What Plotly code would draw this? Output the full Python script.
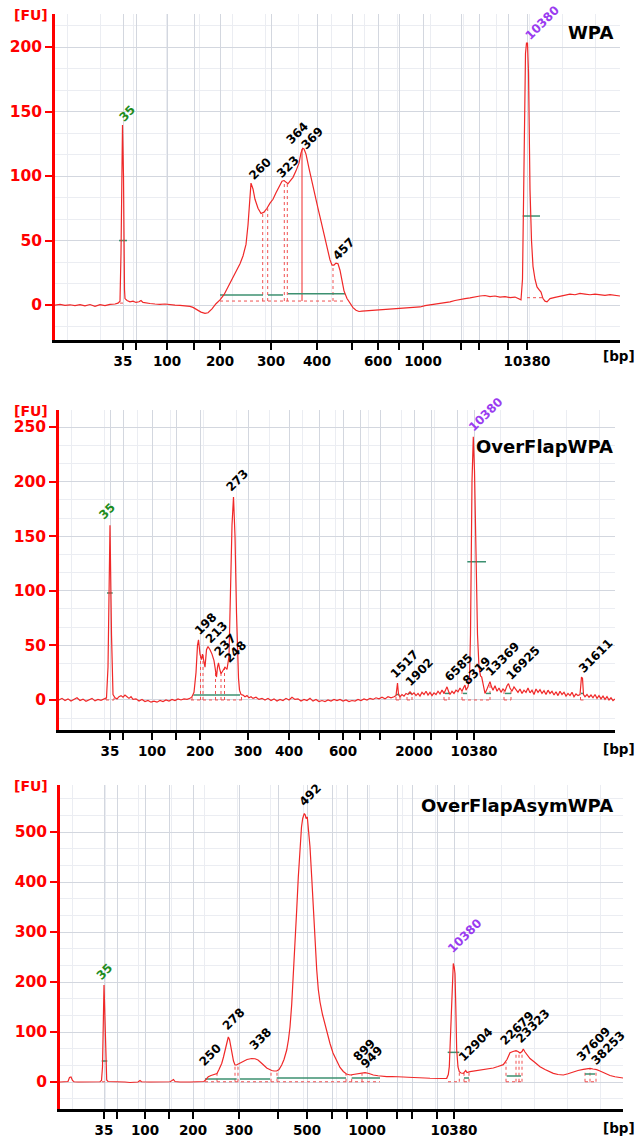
import plotly.graph_objects as go

# ---------------- data ----------------
# x values are migration positions (arbitrary run units); y values in FU
ladder_bp = [35, 50, 100, 150, 200, 300, 400, 500, 600, 700, 1000, 2000, 3000, 7000, 10380]

# ---- Panel 1 : WPA ----
p1_ladder_pos = [123, 136, 167, 194, 220, 271, 317, 352, 378, 399, 423, 461, 479, 508, 527]
p1_labelled = [35, 100, 200, 300, 400, 600, 1000, 10380]
p1_pos = [55, 60, 65, 70, 75, 80, 85, 90, 95, 100, 105, 110, 115, 118, 120, 121, 122.5, 123.5, 124.5, 125,
          127, 130, 133, 136, 139, 141, 143, 146, 150, 155, 160, 165, 170, 175, 180, 185, 190, 193, 197, 201,
          205, 208, 212, 216, 220, 224, 228, 232, 236, 240, 243, 246, 248, 250, 251, 253, 255, 258, 261, 264,
          267, 270, 273, 276, 279, 282, 284, 286, 288, 290, 293, 296, 299, 301, 302.7, 304, 306, 309, 312, 315,
          318, 321, 324, 327, 330, 332, 334, 336, 338, 340, 342, 344, 347, 350, 353, 356, 359, 362, 366, 370,
          375, 380, 385, 390, 395, 400, 405, 410, 415, 420, 425, 430, 435, 440, 445, 450, 455, 460, 465, 470,
          475, 480, 485, 490, 495, 500, 505, 510, 515, 519, 521, 522.5, 524, 525.5, 526.5, 527.5, 528.5, 530, 531.5, 533,
          535, 537, 539, 541, 543, 545, 547, 550, 555, 560, 565, 570, 575, 580, 585, 590, 595, 600, 605, 610,
          615, 620]
p1_fu = [0, 0.5, -0.3, 0.2, -0.5, 0.3, -0.6, 0.4, -1, 0.3, -0.4, 0.5, 0.8, 1.5, 3, 40, 139.5, 100, 12, 5,
         3.5, 2.5, 3, 2, 2.5, 3.5, 2, 1.5, 1.2, 0.8, 0.5, 0.8, 0.2, 0, -0.2, -0.5, -1, -1.8, -3.5, -5.5,
         -6.5, -6, -3, 1, 4, 8, 14, 20, 26, 32, 38, 47, 62, 90, 94.5, 90, 82, 75, 71, 72,
         75, 79, 82, 87, 92, 96, 96.5, 95, 94, 96, 99, 104, 110, 118, 121.5, 121, 117, 106, 95, 85,
         75, 65, 55, 45, 35, 31, 31, 32.5, 32, 27, 18, 11, 5, 1, -2, -4, -5, -4.7, -4.5, -4,
         -3.6, -3.3, -3, -2.8, -2.6, -2.2, -2.4, -2.0, -1.6, -1.5, -0.5, 0, 0.6, 1.5, 2, 2.5, 3.5, 4.4, 5, 5.6,
         6.4, 7, 7.4, 6.5, 7, 6.2, 6.5, 5.8, 6.2, 5, 4, 20, 120, 195, 203, 203, 180, 90, 50, 30,
         20, 14, 12, 10, 5, 3, 2.5, 5, 6, 7, 7.5, 8.5, 8, 9, 8.5, 8, 8.5, 8, 7.5, 8,
         7.5, 7]
p1_peaks = ["35", "260", "323", "364", "369", "457", "10380"]
p1_peak_pos = [122, 251.5, 279, 289, 304, 335, 527.3]
p1_peak_fu = [139.5, 93.8, 96, 121.7, 117.8, 32.3, 203]
p1_green = [(119, 127, 50), (522.7, 540, 69), (220, 263, 7.8), (268, 283, 7.8), (288, 345, 8.8)]
p1_dotted = [(220, 345, 3.1, 3.1), (262.7, 262.7, 3.1, 71), (267.7, 267.7, 3.1, 75), (284.3, 284.3, 3.1, 96.5),
             (287.3, 287.3, 3.1, 94.5), (333, 333, 3.1, 31), (120, 125.5, 1.5, 1.5), (527, 543, 5.7, 5.7)]
p1_solid = [(302, 302, 3.1, 121)]

# ---- Panel 2 : OverFlapWPA ----
p2_ladder_pos = [110, 123, 152, 176, 200, 248, 289, 319, 343, 360, 380, 414, 431, 457, 474]
p2_labelled = [35, 100, 200, 300, 400, 600, 2000, 10380]
p2_pos = [59, 62, 65, 68, 71, 74, 77, 80, 83, 86, 89, 92, 95, 98, 101, 104, 106.5, 108, 110, 111.5,
          113, 115, 117, 119, 121, 123, 125, 127, 129, 131, 133, 136, 139, 142, 145, 148, 151, 154, 157, 160,
          163, 166, 169, 172, 175, 178, 181, 184, 187, 190, 192, 194, 196, 197.5, 198.5, 200, 201.5, 202.5, 203.5, 205,
          206.5, 208, 210, 212, 214, 215.5, 216.5, 217.5, 218.5, 219.5, 221, 223, 225, 227, 229, 230.5, 232, 233.5, 235, 236.5,
          237.5, 238.5, 239.5, 241, 243, 245, 247, 249, 251, 253, 256, 259, 262, 265, 268, 271, 274, 277, 280, 283,
          286, 289, 292, 295, 298, 301, 304, 307, 310, 313, 316, 319, 322, 325, 328, 331, 334, 337, 340, 343,
          346, 349, 352, 355, 358, 361, 364, 367, 370, 373, 376, 379, 382, 385, 388, 391, 394, 396, 397.5, 398.5,
          400, 402, 404, 406, 408, 410, 412, 414, 416, 418, 420, 422, 424, 426, 428, 430, 432, 434, 436, 438,
          440, 442, 444, 446, 447, 448.5, 450, 452, 454, 456, 458, 460, 462, 464, 465, 466, 468, 469.5, 470.5, 472,
          473.3, 474.5, 476, 477.5, 479, 480.5, 481.7, 483, 485, 487, 488.5, 490, 491.5, 493, 495, 497, 499, 501, 503, 505,
          507, 508.5, 510, 512, 514, 516, 518, 520, 522, 524, 526, 528, 530, 532, 534, 536, 538, 540, 542, 544,
          546, 548, 550, 552, 554, 556, 558, 560, 562, 564, 566, 568, 570, 572, 574, 576, 578, 580, 581.5, 582.5,
          583.5, 585, 587, 589, 591, 593, 595, 597, 599, 601, 603, 605, 607, 609, 611, 613, 615]
p2_fu = [0, 1.5, -0.5, 1, -1, 0.5, 2, -0.5, 0.8, -1.2, 0.3, 1.5, -0.8, 0.5, -0.3, 1, 2, 30, 160, 60,
         5, 2, 1, 3, 4, 2.5, 4.5, 3, 1.5, 3, 0.5, 1, -1, 0.5, -1.5, -0.5, -2, -1, -2, -0.5,
         -1.5, 0, -1, 0.5, -0.5, 1, 0, 1, 0.5, 1.5, 3, 7, 25, 50, 55, 42, 37, 42, 38, 30,
         46, 49, 46, 42, 36, 28, 21, 30, 34, 29, 24, 27, 30, 28, 40, 100, 160, 186, 150, 80,
         40, 20, 9, 5, 4.5, 3, 4, 2, 3, 1.5, 2.5, 0.5, 1.5, 0, 1.5, -0.5, 1, -1, 0.5, -0.5,
         1.5, 0, 2.5, 0.5, 1, -1, 0.5, -0.5, 1.5, -1, 0.5, -1.5, -0.5, -1.5, 0, -1, 0.5, -0.5, 0.5, -1,
         0, -1.5, -0.5, -1, 0.5, -0.5, 1, 0, 1.5, 0.5, 2, 1, 2.5, 1, 3, 2, 3, 4, 15.5, 5,
         3, 5, 3.5, 6, 5, 7.6, 5, 6.5, 4, 6, 3.5, 7, 5, 8, 4.5, 7, 4, 6.5, 5, 8,
         5.5, 9, 6, 10, 12, 8, 5, 8, 6, 9, 7.5, 11, 8, 12, 13.7, 9, 12, 20, 60, 200,
         241, 210, 130, 60, 30, 22, 21, 14, 6, 10, 14, 16.8, 12, 9, 13, 8, 11, 7, 10, 8,
         13, 15, 11, 8, 12, 9, 7, 10, 6, 9, 7, 11, 6.5, 9, 5, 10, 7, 9.5, 6, 8.5,
         5, 9, 6, 8, 4.5, 7.5, 4, 8, 5, 7, 3.5, 6, 4, 7, 3, 5.5, 4, 5, 21, 20,
         5, 3, 5, 2.5, 4.5, 2, 5, 1.5, 4, 1, 3.5, 0.5, 3, 0, 2, -0.5, 1]
p2_peaks = ["35", "198", "213", "237", "248", "273", "1517", "1902", "6585", "8319", "10380", "13369", "16925", "31611"]
p2_peak_pos = [101.7, 196.7, 208.3, 216.7, 226.7, 229.3, 393.3, 408.3, 446.7, 465, 471.7, 488.3, 508.3, 581]
p2_peak_fu = [162, 56.5, 48.8, 36.6, 30.5, 187.7, 16.8, 9.2, 13.7, 10.7, 242.7, 18.3, 15.3, 21.3]
p2_green = [(107, 112.7, 98), (467.3, 486, 126.6), (193.3, 240, 4.6), (396, 399.5, 5), (408, 412, 6),
            (445, 449, 6), (463, 467, 6), (486, 491, 6), (505, 511, 6), (581, 584, 6)]
p2_dotted = [(191, 242, 0, 0), (200.5, 200.5, 0, 42), (203, 203, 0, 42), (215.5, 215.5, 0, 28),
             (221, 221, 0, 24), (224.5, 224.5, 0, 30), (241.5, 241.5, 0, 5), (192, 192, 0, 3),
             (106, 114, 0, 0), (106, 106, 0, 2), (114, 114, 0, 2),
             (396, 400, 0, 0), (396, 396, 0, 4), (400, 400, 0, 3),
             (407, 412, 0, 0), (407, 407, 0, 5), (412, 412, 0, 5),
             (444, 449, 0, 0), (444, 444, 0, 8), (449, 449, 0, 7),
             (462, 490, 0, 0), (462, 462, 0, 8), (490, 490, 0, 16),
             (504, 511, 0, 0), (504, 504, 0, 8), (511, 511, 0, 10),
             (580.5, 584, 0, 0), (580.5, 580.5, 0, 5)]

# ---- Panel 3 : OverFlapAsymWPA ----
p3_ladder_pos = [104, 117, 145, 169, 193, 239, 278, 307, 332, 347, 367, 397, 412, 437, 454]
p3_labelled = [35, 100, 200, 300, 500, 1000, 10380]
p3_pos = [60, 65, 68, 69.5, 71, 72.5, 74, 78, 85, 90, 95, 100, 101.5, 102.5, 104, 105.5, 106.7, 108, 110, 113,
          118, 125, 130, 135, 138, 140, 141.5, 150, 160, 170, 172, 173.5, 175, 180, 190, 200, 204, 206, 208.3, 211,
          213.3, 215.5, 217, 219, 221.7, 223.5, 225, 227, 228.3, 229.5, 231.7, 233.5, 235, 236.5, 238.3, 241, 243.3, 247, 251.7, 255,
          258, 260, 263, 266.7, 269, 271.7, 274, 276.7, 279, 281.7, 284, 286.7, 288.5, 290, 291.7, 293.3, 295, 296.7, 298.3, 300,
          301.5, 302.7, 304.3, 305.3, 306, 307.3, 308.5, 310, 311.7, 313.3, 315, 316.7, 318.3, 320, 322.5, 325, 327.5, 330, 333, 336.7,
          340, 343.3, 346.5, 350, 353, 356.7, 360, 365, 369, 373.3, 378, 382, 386.7, 392, 397, 403.3, 408, 414, 420, 425,
          430, 436.7, 442, 446.7, 448.3, 449.3, 450.5, 451.7, 452.5, 453.3, 454.2, 455, 455.8, 456.7, 458, 459.3, 461, 463.3, 465.7, 467,
          470, 475, 480, 487, 493.3, 498, 503.3, 507, 510, 513, 516, 518, 520, 522, 523.3, 525, 527, 530, 535, 540,
          545, 550, 553.3, 558, 563.3, 568, 573.3, 578, 583.3, 587, 590, 593, 596.7, 600, 603, 606.7, 610, 615, 620, 623]
p3_fu = [0, 0, 1, 9, 10, 3, 0.5, 0, 0, 0, 0, 0.5, 3, 30, 194, 60, 4, 1, 1, 0,
         -0.5, 0, -1, 0, 0, 3, 0.5, 0, 0, 0.5, 3, 5, 1, 0, 0, 0.5, 1, 5, 10.6, 13,
         14, 16, 17, 25, 37, 50, 64, 85, 90, 85, 58, 42, 34, 34, 36, 39, 41, 45, 47, 46.5,
         44, 41, 35, 28, 25, 23, 22, 22, 25, 34, 45, 64, 85, 110, 155, 210, 275, 344, 410, 477,
         510, 527, 537, 534, 527, 530, 505, 470, 410, 344, 280, 225, 185, 160, 135, 115, 92, 77, 58, 41,
         29, 21, 16, 14, 15, 16, 16.5, 18.7, 17, 14, 12.5, 11.5, 10.7, 11, 10, 10, 9.5, 9.5, 8.7, 8,
         7.5, 6.7, 7, 7.3, 15, 30.7, 100, 177, 220, 237, 230, 217, 150, 64, 30, 20.7, 18, 17.3, 23, 19,
         20.7, 22, 23.3, 25.5, 28, 31, 34.7, 45, 58.7, 61, 62.7, 61, 58, 61, 66, 60, 54, 47, 39, 30.7,
         25, 20, 17.3, 15, 14, 16.5, 20.7, 23, 25.3, 26.5, 27.3, 26, 24.7, 22, 19, 16, 13, 10.5, 8.7, 8]
p3_peaks = ["35", "250", "278", "338", "492", "899", "949", "10380", "12904", "22679", "23323", "37609", "38253"]
p3_peak_pos = [98.3, 201.7, 225, 251.7, 301.7, 356, 363.3, 450, 461.7, 502.7, 518.3, 579.3, 593.3]
p3_peak_fu = [197, 24, 97, 57, 544, 34, 21, 250.6, 34, 67, 70.7, 34, 27.3]
p3_green = [(101.7, 107.3, 42), (205, 236.7, 6), (240, 270, 6), (276.7, 346, 8), (351.7, 380, 8),
            (447.7, 459.3, 59.3), (464, 469, 8), (506.7, 521, 12), (585, 595, 16)]
p3_dotted = [(205, 380, 0.5, 0.5), (217, 217, 0.5, 17), (235, 235, 0.5, 34), (238, 238, 0.5, 36),
             (271, 271, 0.5, 23), (277, 277, 0.5, 22), (346, 346, 0.5, 16), (351.7, 351.7, 0.5, 14),
             (362, 362, 0.5, 17), (102, 107, 0.5, 0.5),
             (448, 460, 0.5, 0.5), (459.3, 459.3, 0.5, 20), (464, 469, 0.5, 0.5), (464, 464, 0.5, 18), (469, 469, 0.5, 19),
             (506, 522, 0.5, 0.5), (506, 506, 0.5, 40), (516, 516, 0.5, 62), (519, 519, 0.5, 60), (522, 522, 0.5, 61),
             (585, 596, 0.5, 0.5), (585, 585, 0.5, 25), (590, 590, 0.5, 27), (596, 596, 0.5, 25)]

titles = ["WPA", "OverFlapWPA", "OverFlapAsymWPA"]

# ---------------- layout geometry ----------------
W, H = 639, 1141
FONT = "DejaVu Sans"
CURVE = "#f02828"
GREEN = "#3c9070"
GRID = "#d3d7df"
MINOR = "#ebedf2"


def fx(px):
    return px / W


def fy(py):
    return 1 - py / H


panels = [
    dict(pos=p1_pos, fu=p1_fu, lad=p1_ladder_pos, lab=p1_labelled, peaks=p1_peaks, ppos=p1_peak_pos, pfu=p1_peak_fu,
         green=p1_green, dotted=p1_dotted, solid=p1_solid,
         px=(55, 620), py=(14, 340), yr=(-27.1, 225.6), dtick=50, title_y=32.5, fu_y=15, bp_y=356),
    dict(pos=p2_pos, fu=p2_fu, lad=p2_ladder_pos, lab=p2_labelled, peaks=p2_peaks, ppos=p2_peak_pos, pfu=p2_peak_fu,
         green=p2_green, dotted=p2_dotted, solid=[],
         px=(59, 615), py=(410, 730), yr=(-27.5, 265.6), dtick=50, title_y=446.5, fu_y=411, bp_y=749),
    dict(pos=p3_pos, fu=p3_fu, lad=p3_ladder_pos, lab=p3_labelled, peaks=p3_peaks, ppos=p3_peak_pos, pfu=p3_peak_fu,
         green=p3_green, dotted=p3_dotted, solid=[],
         px=(60, 623), py=(785, 1109), yr=(-54, 594), dtick=100, title_y=805, fu_y=786, bp_y=1128),
]

fig = go.Figure()
annotations = []
layout_axes = {}


def seg_xy(segs):
    xs, ys = [], []
    for x0, x1, y0, y1 in segs:
        xs += [x0, x1, None]
        ys += [y0, y1, None]
    return xs, ys


for i, p in enumerate(panels, start=1):
    xa = "x" if i == 1 else f"x{i}"
    ya = "y" if i == 1 else f"y{i}"
    xkey = "xaxis" if i == 1 else f"xaxis{i}"
    ykey = "yaxis" if i == 1 else f"yaxis{i}"

    dx, dy = seg_xy(p["dotted"])
    fig.add_trace(go.Scatter(x=dx, y=dy, xaxis=xa, yaxis=ya, mode="lines",
                             line=dict(color="#f05050", width=1, dash="dot"), hoverinfo="skip", showlegend=False))
    if p["solid"]:
        sx, sy = seg_xy(p["solid"])
        fig.add_trace(go.Scatter(x=sx, y=sy, xaxis=xa, yaxis=ya, mode="lines",
                                 line=dict(color=CURVE, width=1), hoverinfo="skip", showlegend=False))
    gx, gy = seg_xy([(a, b, c, c) for a, b, c in p["green"]])
    fig.add_trace(go.Scatter(x=gx, y=gy, xaxis=xa, yaxis=ya, mode="lines",
                             line=dict(color=GREEN, width=1.5), hoverinfo="skip", showlegend=False))
    fig.add_trace(go.Scatter(x=p["pos"], y=p["fu"], xaxis=xa, yaxis=ya, mode="lines",
                             line=dict(color=CURVE, width=1.2), showlegend=False))

    x0, x1 = p["px"]
    ytop, ybot = p["py"]
    ticktext = [str(b) if b in p["lab"] else "" for b in ladder_bp]
    layout_axes[xkey] = dict(
        domain=[fx(x0), fx(x1)], range=[x0, x1], anchor=ya,
        showline=True, linecolor="black", linewidth=2.5,
        ticks="outside", ticklen=7, tickwidth=2, tickcolor="black",
        tickmode="array", tickvals=p["lad"], ticktext=ticktext,
        tickfont=dict(family=FONT, size=13.5, color="black", weight="bold"),
        showgrid=True, gridcolor=GRID, gridwidth=1, zeroline=False,
        minor=dict(tickmode="linear", tick0=x0 + 12, dtick=33, showgrid=True, gridcolor=MINOR, ticks=""),
    )
    layout_axes[ykey] = dict(
        domain=[fy(ybot), fy(ytop)], range=list(p["yr"]), anchor=xa,
        showline=True, linecolor="#ff0000", linewidth=2.5,
        ticks="outside", ticklen=7, tickwidth=2, tickcolor="#ff0000",
        tickmode="linear", tick0=0, dtick=p["dtick"],
        tickfont=dict(family=FONT, size=15.5, color="#ff0000", weight="bold"),
        showgrid=True, gridcolor=GRID, gridwidth=1, zeroline=False,
        minor=dict(tickmode="linear", tick0=0, dtick=p["dtick"] / 3, showgrid=True, gridcolor=MINOR, ticks=""),
    )

    for t, xp, yp in zip(p["peaks"], p["ppos"], p["pfu"]):
        if t == "35":
            col = "#1e8c1e"
        elif t == "10380":
            col = "#9a3cf0"
        else:
            col = "black"
        annotations.append(dict(x=xp, y=yp, xref=xa, yref=ya, text=t, showarrow=False,
                                textangle=-45, xanchor="left", yanchor="bottom", xshift=-8, yshift=-2,
                                font=dict(family=FONT, size=12, color=col, weight="bold")))
    annotations.append(dict(x=fx(615), y=fy(p["title_y"]), xref="paper", yref="paper", text=titles[i - 1],
                            showarrow=False, xanchor="right", yanchor="middle",
                            font=dict(family=FONT, size=18, color="black", weight="bold")))
    annotations.append(dict(x=fx(31.5), y=fy(p["fu_y"]), xref="paper", yref="paper", text="[FU]",
                            showarrow=False, xanchor="center", yanchor="middle",
                            font=dict(family=FONT, size=14, color="#ff0000", weight="bold")))
    annotations.append(dict(x=fx(619), y=fy(p["bp_y"]), xref="paper", yref="paper", text="[bp]",
                            showarrow=False, xanchor="center", yanchor="middle",
                            font=dict(family=FONT, size=13.5, color="black", weight="bold")))

fig.update_layout(width=W, height=H, margin=dict(l=0, r=0, t=0, b=0),
                  paper_bgcolor="white", plot_bgcolor="white", showlegend=False,
                  annotations=annotations, **layout_axes)

fig.write_html("out.html", config={"displayModeBar": False},
               post_script="document.body.style.margin='0';document.body.style.overflow='hidden';")
